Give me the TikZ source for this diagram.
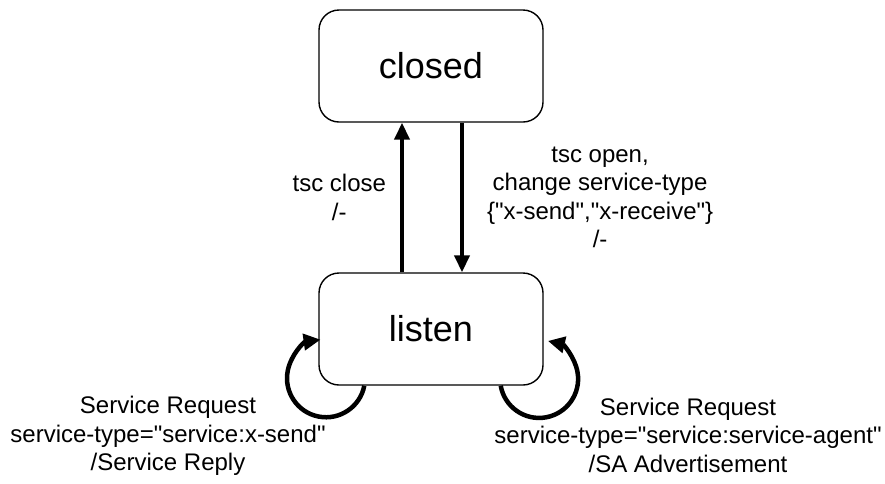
\documentclass[tikz,border=0pt]{standalone}
\usepackage{fontspec}
\setmainfont{Liberation Sans}[Ligatures=TeXOff]
\usepackage{tikz}
\usetikzlibrary{arrows.meta,calc}
\tikzset{
	state/.style={
			rectangle, draw, rounded corners=20pt, line width=1.4pt,
			minimum width=224pt, minimum height=112pt, inner sep=0pt,
			font=\fontsize{36}{40}\selectfont
		},
	trans/.style={
			line width=4pt, -{Triangle[length=17pt,width=15pt]}
		},
	selfloop/.style={
			line width=4.5pt, -{Triangle[length=17pt,width=16pt]}
		},
	lbl/.style={
			align=center, inner sep=0pt, font=\fontsize{24}{28.5}\selectfont
		}
}
\begin{document}
\begin{tikzpicture}[x=1pt, y=-1pt, node distance=263pt]
    \useasboundingbox (0,0) rectangle (885,483);
    \node (closed) [state] at (431,66) {closed};
    \node (listen) [state, below of=closed] {listen};
    \draw [trans] ([xshift=-29pt]listen.north) -- node[lbl, anchor=east, xshift=-14pt] {tsc close\\/-} ([xshift=-29pt]closed.south);
    \draw [trans] ([xshift=31pt]closed.south) -- node[lbl, anchor=west, xshift=23pt] {tsc open,\\change service-type\\\{"x-send","x-receive"\}\\/-} ([xshift=31pt]listen.north);
    \draw [selfloop] ([xshift=46pt]listen.south west) arc[start angle=11, end angle=262, radius=39];
    \draw [selfloop] ([xshift=-43pt]listen.south east) arc[start angle=170, end angle=-77, radius=39];
    \node (reqsend) [lbl] at (168,436) {Service Request\\service-type="service:x-send"\\/Service Reply};
    \node (reqagent) [lbl] at (688,435) {Service Request\\service-type="service:service-agent"\\/SA Advertisement};
\end{tikzpicture}
\end{document}
